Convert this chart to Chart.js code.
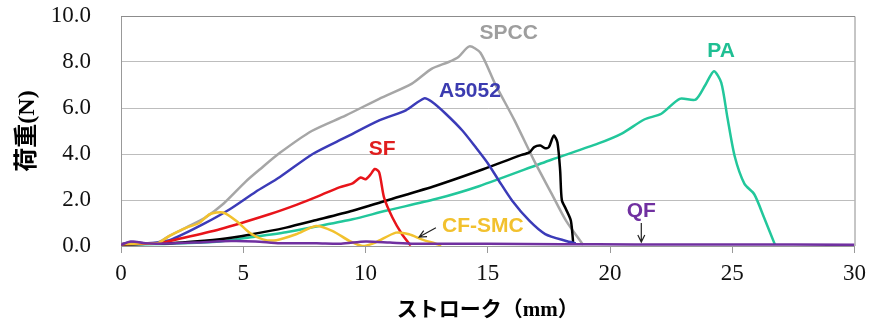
<!DOCTYPE html>
<html lang="ja">
<head>
<meta charset="UTF-8">
<title>荷重 - ストローク</title>
<script src="https://cdn.jsdelivr.net/npm/chart.js@4.4.1/dist/chart.umd.min.js"></script>
<style>
    html, body { margin: 0; padding: 0; background: #fff; }
    #chart { display: block; }
</style>
</head>
<body>
<canvas id="chart" width="873" height="321"></canvas>
<script>
// Data: [stroke (mm), load (N)]
const spcc = [[0,0.08],[0.5,0.15],[1,0.12],[1.5,0.15],[2.0,0.45],[2.7,0.82],[3.4,1.2],[4.2,1.85],[5.1,2.8],[5.7,3.35],[6.5,4.05],[7.8,5.0],[9.2,5.68],[10.56,6.4],[11.9,7.06],[12.7,7.7],[13.4,8.0],[13.8,8.22],[14.25,8.68],[14.7,8.4],[15.3,7.05],[16.1,5.45],[16.9,3.7],[17.6,2.3],[18.2,1.1],[18.9,0.05]];
const a5052 = [[0,0.08],[0.5,0.17],[1,0.12],[1.5,0.15],[2.1,0.3],[3.36,0.95],[4.45,1.6],[5.5,2.35],[6.5,3.0],[7.84,4.0],[9.2,4.73],[10.56,5.46],[11.65,5.9],[12.4,6.42],[12.7,6.28],[13.28,5.75],[13.96,5.02],[14.5,4.3],[15.0,3.6],[15.45,2.85],[16.0,1.97],[16.7,1.1],[17.35,0.52],[18.2,0.22],[18.6,0.12]];
const sf = [[0,0.08],[1,0.1],[1.6,0.12],[2.0,0.22],[4.04,0.73],[6.07,1.38],[7.2,1.8],[8.1,2.18],[8.93,2.55],[9.47,2.72],[9.8,2.98],[10.0,2.9],[10.2,3.1],[10.38,3.35],[10.56,3.2],[10.76,2.1],[11.1,1.24],[11.5,0.5],[11.85,0.02]];
const blackCurve = [[0,0.05],[1,0.1],[1.5,0.1],[2.5,0.15],[4.04,0.29],[5.3,0.5],[6.75,0.8],[8,1.13],[9.47,1.53],[10.83,1.97],[12.87,2.62],[14.64,3.27],[16.3,3.93],[16.7,4.07],[16.9,4.3],[17.15,4.37],[17.35,4.25],[17.5,4.3],[17.7,4.8],[17.85,4.5],[17.96,3.3],[18.03,2.0],[18.2,1.6],[18.4,1.1],[18.5,0.05]];
const pa = [[0,0.05],[1,0.08],[2,0.1],[4.04,0.2],[5.3,0.38],[6.75,0.6],[8,0.85],[9.47,1.16],[10.83,1.53],[12.87,2.04],[14.64,2.6],[17.6,3.75],[19.5,4.45],[20.5,4.9],[21.4,5.5],[22.1,5.75],[22.85,6.4],[23.5,6.36],[23.9,7.0],[24.25,7.6],[24.55,7.1],[24.8,5.6],[25.1,3.9],[25.5,2.7],[25.9,2.25],[26.3,1.24],[26.75,0.05]];
const cfSmc = [[0,0.08],[1,0.12],[1.5,0.12],[2.0,0.45],[2.68,0.8],[3.2,1.0],[3.63,1.38],[4.17,1.46],[4.72,1.09],[5.26,0.58],[5.8,0.29],[6.35,0.25],[7.16,0.51],[7.98,0.87],[8.66,0.65],[9.34,0.22],[9.88,0.0],[10.4,0.15],[11.24,0.58],[11.78,0.51],[12.3,0.29],[12.87,0.1],[13.1,0.02]];
const qf = [[0,0.05],[0.4,0.2],[1,0.12],[1.5,0.1],[3,0.15],[4.5,0.22],[5.5,0.2],[6.5,0.12],[8,0.12],[9,0.1],[10,0.2],[11,0.15],[12,0.1],[15,0.1],[18,0.08],[21,0.07],[25,0.07],[30,0.05]];

// axis ticks
const xTicks = [0, 5, 10, 15, 20, 25, 30];
const yTicks = [0, 2, 4, 6, 8, 10];

// curve labels, placed in data units
const labelNames = ["SPCC", "A5052", "SF", "CF-SMC", "PA", "QF"];
const labelX = [15.86, 14.27, 10.68, 14.8, 24.54, 21.28];
const labelY = [9.26, 6.72, 4.19, 0.87, 8.47, 1.53];

document.addEventListener("DOMContentLoaded", () => {
    const toXY = (arr) => arr.map(p => ({ x: p[0], y: p[1] }));

    const line = (label, data, color, order) => ({
        label: label,
        data: toXY(data),
        borderColor: color,
        backgroundColor: color,
        borderWidth: 2.5,
        pointRadius: 0,
        showLine: true,
        tension: 0.25,
        order: order
    });

    const labelColors = ["#9e9e9e", "#3b3bb0", "#e01e1e", "#f2c12e", "#1fbf93", "#7030a0"];

    // frame, labels and arrows drawn on top of the plot
    const annotations = {
        id: "annotations",
        afterDatasetsDraw(chart) {
            const { ctx, chartArea, scales } = chart;
            const px = (v) => scales.x.getPixelForValue(v);
            const py = (v) => scales.y.getPixelForValue(v);

            ctx.save();
            ctx.strokeStyle = "#8c8c8c";
            ctx.lineWidth = 1;
            ctx.beginPath();
            ctx.moveTo(chartArea.left, chartArea.top + 0.5);
            ctx.lineTo(chartArea.right + 0.5, chartArea.top + 0.5);
            ctx.lineTo(chartArea.right + 0.5, chartArea.bottom);
            ctx.stroke();

            ctx.font = "bold 21px 'Liberation Sans', Arial, sans-serif";
            ctx.textAlign = "center";
            ctx.textBaseline = "middle";
            labelNames.forEach((name, i) => {
                ctx.fillStyle = labelColors[i];
                ctx.fillText(name, px(labelX[i]), py(labelY[i]));
            });

            // arrows pointing to CF-SMC and QF
            const arrow = (x1, y1, x2, y2) => {
                const a = Math.atan2(y2 - y1, x2 - x1);
                const h = 8;
                ctx.beginPath();
                ctx.moveTo(x1, y1);
                ctx.lineTo(x2, y2);
                ctx.moveTo(x2 - h * Math.cos(a - 0.45), y2 - h * Math.sin(a - 0.45));
                ctx.lineTo(x2, y2);
                ctx.lineTo(x2 - h * Math.cos(a + 0.45), y2 - h * Math.sin(a + 0.45));
                ctx.stroke();
            };
            ctx.strokeStyle = "#222";
            ctx.lineWidth = 1.2;
            arrow(px(12.88), py(0.79), px(12.19), py(0.39));
            arrow(px(21.28), py(1.0), px(21.28), py(0.17));
            ctx.restore();
        }
    };

    new Chart(document.getElementById("chart"), {
        type: "scatter",
        data: {
            datasets: [
                line("QF", qf, "#7030a0", 0),
                line("CF-SMC", cfSmc, "#f2c12e", 1),
                line("SF", sf, "#e8141a", 2),
                line("A5052", a5052, "#3b3bb8", 3),
                line("black", blackCurve, "#000000", 4),
                line("SPCC", spcc, "#a6a6a6", 5),
                line("PA", pa, "#22c79b", 6)
            ]
        },
        options: {
            responsive: false,
            animation: false,
            layout: { padding: { left: 0, right: 16, top: 16, bottom: 0 } },
            plugins: {
                legend: { display: false },
                tooltip: { enabled: false }
            },
            scales: {
                x: {
                    type: "linear",
                    min: 0,
                    max: 30,
                    afterBuildTicks: (scale) => { scale.ticks = xTicks.map(v => ({ value: v })); },
                    afterFit: (scale) => { scale.height = 75; },
                    grid: {
                        drawOnChartArea: false,
                        drawTicks: true,
                        tickLength: 7,
                        color: "#999"
                    },
                    border: { color: "#999" },
                    ticks: {
                        padding: 7,
                        color: "#111",
                        font: { family: "'Liberation Serif', 'Times New Roman', serif", size: 23 }
                    },
                    title: {
                        display: true,
                        text: "ストローク（mm）",
                        color: "#000",
                        padding: { top: 0, bottom: 0 },
                        font: { family: "'Liberation Serif', 'Noto Sans CJK JP', serif", size: 21, weight: "bold", lineHeight: 1 }
                    }
                },
                y: {
                    min: 0,
                    max: 10,
                    afterBuildTicks: (scale) => { scale.ticks = yTicks.map(v => ({ value: v })); },
                    afterFit: (scale) => { scale.width = 121; },
                    grid: {
                        drawTicks: true,
                        tickLength: 28,
                        tickColor: "rgba(0,0,0,0)",
                        color: "#bdbdbd"
                    },
                    border: { color: "#999" },
                    ticks: {
                        padding: 2,
                        color: "#111",
                        callback: (v) => v.toFixed(1),
                        font: { family: "'Liberation Serif', 'Times New Roman', serif", size: 23 }
                    },
                    title: {
                        display: true,
                        text: "荷重(N)",
                        color: "#000",
                        padding: { top: 13, bottom: 0 },
                        font: { family: "'Liberation Serif', 'Noto Sans CJK JP', serif", size: 24, weight: "bold" }
                    }
                }
            }
        },
        plugins: [annotations]
    });
});
</script>
</body>
</html>
